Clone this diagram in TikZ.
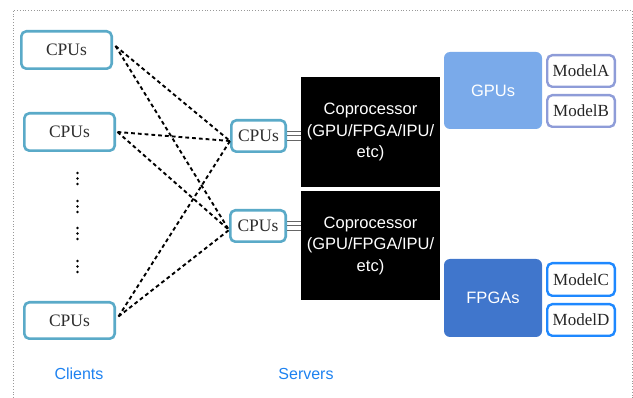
\documentclass[tikz,border=0pt]{standalone}
\usepackage{fontspec}
\setmainfont{Liberation Serif}
\setsansfont{Liberation Sans}
\definecolor{cpuborder}{RGB}{90,170,200}
\definecolor{gpufill}{RGB}{122,170,234}
\definecolor{fpgafill}{RGB}{64,118,204}
\definecolor{modelab}{RGB}{142,156,216}
\definecolor{modelcd}{RGB}{30,136,255}
\definecolor{labelblue}{RGB}{30,130,240}
\definecolor{txtgray}{RGB}{45,45,45}
\begin{document}
\begin{tikzpicture}[x=1pt,y=-1pt,
  cpubox/.style={draw=cpuborder,line width=2.6pt,rounded corners=5pt,fill=white,
    font=\fontsize{17.5}{20}\selectfont,text=txtgray,inner sep=0pt},
  copbox/.style={fill=black,text=white,inner sep=0pt,minimum width=139pt,
    font=\sffamily\fontsize{16.5}{21.5}\selectfont,align=center},
  accbox/.style={rounded corners=6pt,text=white,inner sep=0pt,minimum width=98pt,
    font=\sffamily\fontsize{16.5}{19}\selectfont},
  modelbox/.style={line width=2.4pt,rounded corners=5pt,fill=white,inner sep=0pt,
    minimum width=67.6pt,minimum height=31.6pt,font=\fontsize{17}{20}\selectfont,text=black!85},
  link/.style={line width=1.9pt,dash pattern=on 3.8pt off 3pt},
  bus/.style={draw=black!60,line width=1pt},
  grouplabel/.style={text=labelblue,font=\sffamily\fontsize{16}{19}\selectfont}
]
\useasboundingbox (0,0) rectangle (633,398);
% frame
\draw[black!40,line width=0.8pt,dotted] (13,398) -- (13,10) -- (632,10) -- (632,398);

% clients
\node[cpubox,minimum width=90.4pt,minimum height=37.4pt] (c1) at (66.5,50) {CPUs};
\node[cpubox,minimum width=90.4pt,minimum height=37.4pt] (c2) at (69.5,132) {CPUs};
\node[cpubox,minimum width=90.4pt,minimum height=36.4pt] (c3) at (69.5,320.5) {CPUs};

% vertical dots
\foreach \y in {173,178.5,184, 201,206.5,212, 228,233.5,239, 261,266.5,272}
  \fill (77.5,\y) circle (1.35pt);

% servers
\node[cpubox,minimum width=54.4pt,minimum height=31.4pt] (s1) at (258.5,136) {CPUs};
\node[cpubox,minimum width=55.4pt,minimum height=31.4pt] (s2) at (258,226) {CPUs};

% coprocessors
\node[copbox,minimum height=110pt] (p1) at (370.5,132) {Coprocessor\\(GPU/FPGA/IPU/\\etc)};
\node[copbox,minimum height=109pt] (p2) at (370.5,245.5) {Coprocessor\\(GPU/FPGA/IPU/\\etc)};

% buses
\foreach \d in {-4.5,0,4.5}{
  \draw[bus] ([yshift=\d pt]s1.east) -- ([yshift=\d pt]s1.east -| p1.west);
  \draw[bus] ([yshift=\d pt]s2.east) -- ([yshift=\d pt]s2.east -| p2.west);
}

% accelerators
\node[accbox,fill=gpufill,minimum height=77pt] (gpu) at (493,90.5) {GPUs};
\node[accbox,fill=fpgafill,minimum height=78pt] (fpga) at (493,298) {FPGAs};
\node[modelbox,draw=modelab] (ma) at (581,71) {ModelA};
\node[modelbox,draw=modelab] (mb) at (581,111) {ModelB};
\node[modelbox,draw=modelcd,minimum height=32.6pt] (mc) at (581,279.5) {ModelC};
\node[modelbox,draw=modelcd] (md) at (581,320) {ModelD};

% links
\draw[link] ([shift={(2.5,-4)}]c1.east) -- ([yshift=-5pt]s1.west);
\draw[link] ([shift={(2.5,-4)}]c1.east) -- ([yshift=-4pt]s2.west);
\draw[link] ([xshift=1.5pt]c2.east) -- ([yshift=-5pt]s1.west);
\draw[link] ([xshift=1.5pt]c2.east) -- ([yshift=-4pt]s2.west);
\draw[link] ([shift={(2.5,-4)}]c3.east) -- ([yshift=-5pt]s1.west);
\draw[link] ([shift={(2.5,-4)}]c3.east) -- ([yshift=-4pt]s2.west);

% labels
\node[grouplabel] (lc) at (79,374) {Clients};
\node[grouplabel] (ls) at (306,374) {Servers};
\end{tikzpicture}
\end{document}
